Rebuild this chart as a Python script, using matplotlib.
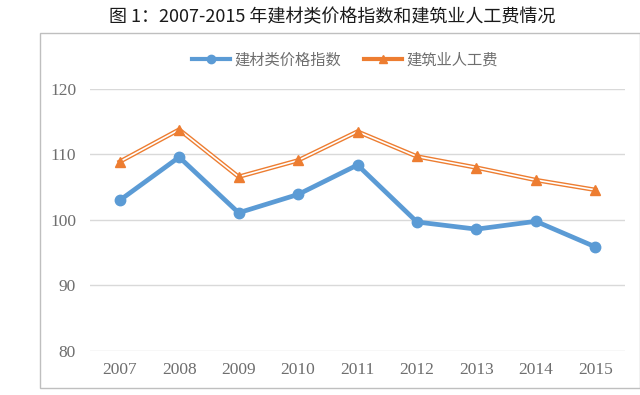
import matplotlib
matplotlib.use("Agg")
import matplotlib.pyplot as plt
from matplotlib.patches import Rectangle
from matplotlib.lines import Line2D

plt.rcParams['font.family'] = ['Noto Sans CJK SC', 'DejaVu Sans']

years = ['2007', '2008', '2009', '2010', '2011', '2012', '2013', '2014', '2015']
material_index = [103.0, 109.6, 101.1, 103.9, 108.4, 99.7, 98.6, 99.8, 95.9]
labor_cost = [108.9, 113.8, 106.6, 109.1, 113.5, 109.7, 108.0, 106.1, 104.6]
yticks = [80, 90, 100, 110, 120]
title = '图 1：2007-2015 年建材类价格指数和建筑业人工费情况'
names = ['建材类价格指数', '建筑业人工费']

blue = '#5B9BD5'
orange = '#ED7D31'

fig = plt.figure(figsize=(6.4, 3.95), dpi=100)
fig.patches.append(Rectangle((40/640, 1-388/395), 600/640, 355/395, transform=fig.transFigure,
                             fill=False, edgecolor='#BFBFBF', linewidth=1.0))
fig.text(332/640, 1-17/395, title, ha='center', va='center', fontsize=13,
         fontweight='medium', color='#1a1a1a')

ax = fig.add_axes([90/640, 1-351/395, 535/640, (351-89)/395])
x = list(range(len(years)))
ax.plot(x, material_index, color=blue, linewidth=3.4, marker='o', markersize=7.5,
        markerfacecolor=blue, markeredgecolor=blue, zorder=3)
ax.plot(x, labor_cost, color=orange, linewidth=3.2, zorder=3, solid_joinstyle='miter')
ax.plot(x, labor_cost, color='white', linewidth=1.2, zorder=4, solid_joinstyle='miter')
ax.plot(x, labor_cost, linestyle='none', marker='^', markersize=7,
        markerfacecolor=orange, markeredgecolor=orange, zorder=5)

ax.set_xlim(-0.5, len(years) - 0.5)
ax.set_ylim(80, 120)
ax.set_yticks(yticks)
ax.set_xticks(x)
ax.set_xticklabels(years, fontfamily='Liberation Serif')
ax.set_yticklabels([str(v) for v in yticks], fontfamily='Liberation Serif')
ax.tick_params(axis='both', length=0, labelsize=12.5, colors='#6E6E6E')
ax.tick_params(axis='x', pad=8)
ax.tick_params(axis='y', pad=10)
ax.grid(axis='y', color='#D9D9D9', linewidth=1.0)
ax.set_axisbelow(True)
for s in ax.spines.values():
    s.set_visible(False)

h1 = Line2D([], [], color=blue, linewidth=3.0, marker='o', markersize=6)
h2 = Line2D([], [], color=orange, linewidth=3.0, marker='^', markersize=6)
fig.legend([h1, h2], names, loc='center', bbox_to_anchor=(345/640, 1-60/395), ncol=2,
           frameon=False, fontsize=11, labelcolor='#6E6E6E', handlelength=2.5,
           handletextpad=0.3, columnspacing=1.5)

fig.savefig('out.png', dpi=100)
